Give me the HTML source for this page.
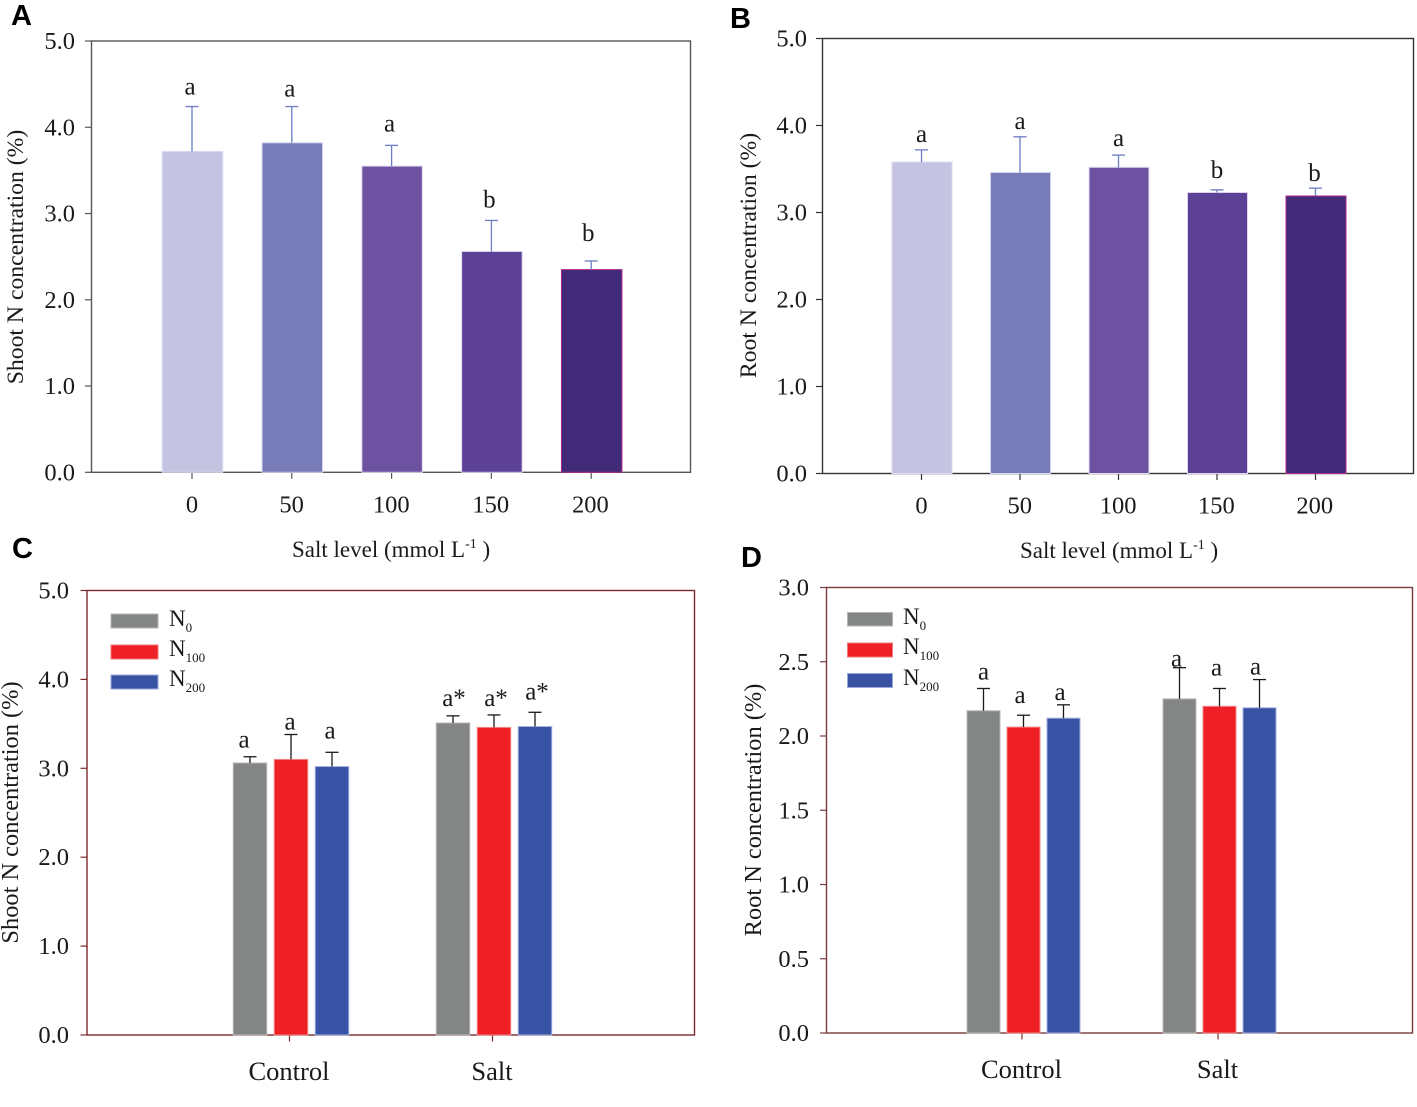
<!DOCTYPE html>
<html lang="en">
<head>
<meta charset="utf-8">
<title>Shoot and root N concentration under salt levels</title>
<style>
html,body{margin:0;padding:0;background:#fff;}
#figure{display:block;width:1417px;height:1107px;}
text{font-family:"Liberation Serif",serif;fill:#1a1a1a;}
.panel-letter{font-family:"Liberation Sans",sans-serif;font-weight:700;font-size:29px;fill:#000;}
.tick-label{font-size:24.5px;}
.axis-title{font-size:23.7px;}
.axis-title-wide{font-size:24.4px;}
.x-title{font-size:23px;}
.sig-label{font-size:25px;}
.legend-label{font-size:23px;}
.group-label{font-size:26.5px;}
.sub{font-size:13px;}
</style>
</head>
<body>
<svg id="figure" xmlns="http://www.w3.org/2000/svg" width="1417" height="1107" viewBox="0 0 1417 1107">
  <rect x="0" y="0" width="1417" height="1107" fill="#fff"/>

  <g id="panel-a"></g>
  <g id="panel-b"></g>
  <g id="panel-c"></g>
  <g id="panel-d"></g>

  <text class="panel-letter" x="11" y="25">A</text>
  <text class="panel-letter" x="730" y="28">B</text>
  <text class="panel-letter" x="12" y="558">C</text>
  <text class="panel-letter" x="741" y="567">D</text>

  <text class="axis-title" transform="translate(23,257) rotate(-90)" text-anchor="middle">Shoot N concentration (%)</text>
  <text class="axis-title" transform="translate(756,255.5) rotate(-90)" text-anchor="middle">Root N concentration (%)</text>
  <text class="axis-title-wide" transform="translate(18,812.5) rotate(-90)" text-anchor="middle">Shoot N concentration (%)</text>
  <text class="axis-title-wide" transform="translate(761,810) rotate(-90)" text-anchor="middle">Root N concentration (%)</text>

  <text class="x-title" x="292" y="557">Salt level (mmol L<tspan font-size="14" dy="-9">-1</tspan><tspan dy="9"> )</tspan></text>
  <text class="x-title" x="1020" y="558">Salt level (mmol L<tspan font-size="14" dy="-9">-1</tspan><tspan dy="9"> )</tspan></text>

  <g>
    <rect x="111" y="614" width="47" height="14" fill="#848685" stroke="#b5b5b5"/>
    <text class="legend-label" x="169" y="626">N<tspan class="sub" dy="6">0</tspan></text>
    <rect x="111" y="645" width="47" height="14" fill="#ee1f25" stroke="#f07a7a"/>
    <text class="legend-label" x="169" y="656">N<tspan class="sub" dy="6">100</tspan></text>
    <rect x="111" y="675" width="47" height="14" fill="#3953a4" stroke="#9aa8dc"/>
    <text class="legend-label" x="169" y="686">N<tspan class="sub" dy="6">200</tspan></text>
  </g>
  <g>
    <rect x="847.5" y="612.5" width="45" height="13.5" fill="#848685" stroke="#b5b5b5"/>
    <text class="legend-label" x="903" y="624">N<tspan class="sub" dy="6">0</tspan></text>
    <rect x="847.5" y="643" width="45" height="14" fill="#ee1f25" stroke="#f07a7a"/>
    <text class="legend-label" x="903" y="654">N<tspan class="sub" dy="6">100</tspan></text>
    <rect x="847.5" y="673.5" width="45" height="14" fill="#3953a4" stroke="#9aa8dc"/>
    <text class="legend-label" x="903" y="685">N<tspan class="sub" dy="6">200</tspan></text>
  </g>
</svg>

<script>
// Panel A: shoot N by salt level
const aCategories = ['0', '50', '100', '150', '200'];
const aValues = [3.72, 3.82, 3.55, 2.56, 2.35];
const aErrors = [0.52, 0.42, 0.24, 0.36, 0.10];
const aLetters = ['a', 'a', 'a', 'b', 'b'];
const aTicks = ['0.0', '1.0', '2.0', '3.0', '4.0', '5.0'];

// Panel B: root N by salt level
const bCategories = ['0', '50', '100', '150', '200'];
const bValues = [3.58, 3.46, 3.52, 3.23, 3.19];
const bErrors = [0.14, 0.41, 0.14, 0.03, 0.09];
const bLetters = ['a', 'a', 'a', 'b', 'b'];
const bTicks = ['0.0', '1.0', '2.0', '3.0', '4.0', '5.0'];

// Panel C: shoot N by treatment and N level
const cGroups = ['Control', 'Salt'];
const cN0Values = [3.06, 3.51];
const cN100Values = [3.10, 3.46];
const cN200Values = [3.02, 3.47];
const cN0Errors = [0.07, 0.08];
const cN100Errors = [0.28, 0.14];
const cN200Errors = [0.16, 0.16];
const cN0Letters = ['a', 'a*'];
const cN100Letters = ['a', 'a*'];
const cN200Letters = ['a', 'a*'];
const cTicks = ['0.0', '1.0', '2.0', '3.0', '4.0', '5.0'];

// Panel D: root N by treatment and N level
const dGroups = ['Control', 'Salt'];
const dN0Values = [2.17, 2.25];
const dN100Values = [2.06, 2.20];
const dN200Values = [2.12, 2.19];
const dN0Errors = [0.15, 0.21];
const dN100Errors = [0.08, 0.12];
const dN200Errors = [0.09, 0.19];
const dN0Letters = ['a', 'a'];
const dN100Letters = ['a', 'a'];
const dN200Letters = ['a', 'a'];
const dTicks = ['0.0', '0.5', '1.0', '1.5', '2.0', '2.5', '3.0'];

const SVGNS = 'http://www.w3.org/2000/svg';

function make(parent, tag, attrs, content) {
  const el = document.createElementNS(SVGNS, tag);
  for (const k in attrs) el.setAttribute(k, attrs[k]);
  if (content !== undefined) el.textContent = content;
  parent.appendChild(el);
  return el;
}

function linearScale(dMax, yBottom, yTop) {
  return function (v) { return yBottom - (v / dMax) * (yBottom - yTop); };
}

function drawFrame(g, f, ticks, y) {
  const frame = make(g, 'rect', {x: f.left, y: f.top, width: f.right - f.left, height: f.bottom - f.top, fill: 'none', stroke: f.axis, 'stroke-width': 1.4});
  
  
  ticks.forEach(function (t) {
    const py = y(parseFloat(t));
    const tick = make(g, 'line', {x1: f.left - 6.5, x2: f.left, y1: py, y2: py, stroke: f.axis, 'stroke-width': 1.2});
    
    
    const label = make(g, 'text', {class: 'tick-label', x: f.labelX, y: py + 8, 'text-anchor': 'end'}, t);
    
    
  });
}

function drawBar(g, cx, w, value, err, letter, y, f, fill, stroke, capColor, labelX, labelY, name) {
  const top = y(value);
  const errTop = y(value + err);
  const bar = make(g, 'rect', {x: cx + f.barDx - w / 2, y: top, width: w, height: y(0) - top, fill: fill, stroke: stroke, 'stroke-width': 1});
  
  
  const stem = make(g, 'line', {x1: cx, x2: cx, y1: top, y2: errTop, stroke: capColor, 'stroke-width': 1.3});
  
  
  const cap = make(g, 'line', {x1: cx - f.cap, x2: cx + f.cap, y1: errTop, y2: errTop, stroke: capColor, 'stroke-width': 1.3});
  
  
  const sig = make(g, 'text', {class: 'sig-label', x: cx + labelX, y: errTop + labelY, 'text-anchor': 'middle'}, letter);
  
  
}

function drawSingle(id, f, cats, values, errors, letters, ticks, fills, strokes) {
  const g = document.getElementById(id);
  const y = linearScale(parseFloat(ticks[ticks.length - 1]), f.bottom, f.top);
  const x = function (i) { return f.x0 + f.step * i; };
  drawFrame(g, f, ticks, y);
  cats.forEach(function (c, i) {
    const tick = make(g, 'line', {x1: x(i), x2: x(i), y1: f.bottom, y2: f.bottom + 6.5, stroke: f.axis, 'stroke-width': 1.2});
    
    
    const label = make(g, 'text', {class: 'tick-label', x: x(i) - f.catDx * i, y: f.bottom + 40, 'text-anchor': 'middle'}, c);
    
    
    drawBar(g, x(i), f.barW, values[i], errors[i], letters[i], y, f, fills[i], strokes[i], '#6a7cc4', f.labelDx[i], f.labelDy[i], 'bar-salt-' + c);
  });
}

function drawGrouped(id, f, groups, series, ticks) {
  const g = document.getElementById(id);
  const y = linearScale(parseFloat(ticks[ticks.length - 1]), f.bottom, f.top);
  const x = function (gi, si) { return f.x0 + f.step * gi + f.off * si; };
  drawFrame(g, f, ticks, y);
  groups.forEach(function (name, gi) {
    const tx = x(gi, 1) - 1.5;
    const tick = make(g, 'line', {x1: tx, x2: tx, y1: f.bottom, y2: f.bottom + 6.5, stroke: f.axis, 'stroke-width': 1.2});
    
    
    const label = make(g, 'text', {class: 'group-label', x: tx - 0.5, y: f.bottom + 45, 'text-anchor': 'middle'}, name);
    
    
    series.forEach(function (s, si) {
      const idx = gi * series.length + si;
      drawBar(g, x(gi, si), f.barW, s.values[gi], s.errors[gi], s.letters[gi], y, f, s.fill, s.stroke, '#1a1a1a', f.labelDx[idx], f.labelDy[idx], 'bar-' + name.toLowerCase() + '-' + s.key);
    });
  });
}

const purpleFills = ['#c5c3e2', '#777bb8', '#6d52a1', '#5c4196', '#412a78'];
const purpleStrokes = ['#dcdaf0', '#d6d8ee', '#e2dcf0', '#dcd6ee', '#b02a8c'];
const gray = {fill: '#848685', stroke: '#b9b9b9', key: 'n0'};
const red = {fill: '#ee1f25', stroke: '#f28a8a', key: 'n100'};
const blue = {fill: '#3953a4', stroke: '#a3b0e2', key: 'n200'};

drawSingle('panel-a',
  {left: 91.5, right: 690.5, top: 41, bottom: 472.3, labelX: 75, x0: 192, step: 99.8, barW: 60.5, barDx: 0.5, cap: 6.5, axis: '#555', catDx: 0.2,
   labelDx: [-2, -2, -2, -2, -3], labelDy: [-12, -10, -14, -13, -20]},
  aCategories, aValues, aErrors, aLetters, aTicks, purpleFills, purpleStrokes);

drawSingle('panel-b',
  {left: 822.5, right: 1413.5, top: 38.5, bottom: 473.5, labelX: 807, x0: 921.5, step: 98.5, barW: 60, barDx: 0.5, cap: 6.5, axis: '#333', catDx: 0.2,
   labelDx: [0, 0, 0, 0, -1], labelDy: [-8, -8, -9, -12, -7]},
  bCategories, bValues, bErrors, bLetters, bTicks, purpleFills, purpleStrokes);

drawGrouped('panel-c',
  {left: 87, right: 694.5, top: 590.5, bottom: 1035, labelX: 69, x0: 250, step: 203, off: 41, barW: 33.5, barDx: 0, cap: 6.5, axis: '#7a2a2a',
   labelDx: [-6, -1, -2, 1, 2, 2], labelDy: [-9, -5, -14, -10, -9, -13]},
  cGroups,
  [Object.assign({values: cN0Values, errors: cN0Errors, letters: cN0Letters}, gray),
   Object.assign({values: cN100Values, errors: cN100Errors, letters: cN100Letters}, red),
   Object.assign({values: cN200Values, errors: cN200Errors, letters: cN200Letters}, blue)],
  cTicks);

drawGrouped('panel-d',
  {left: 826.5, right: 1412.5, top: 587.5, bottom: 1033, labelX: 809, x0: 983.5, step: 196, off: 40, barW: 33, barDx: 0, cap: 6.5, axis: '#7a3a3a',
   labelDx: [0, -3.5, -3.5, -3, -3, -4], labelDy: [-9, -12, -5, -1, -13, -5]},
  dGroups,
  [Object.assign({values: dN0Values, errors: dN0Errors, letters: dN0Letters}, gray),
   Object.assign({values: dN100Values, errors: dN100Errors, letters: dN100Letters}, red),
   Object.assign({values: dN200Values, errors: dN200Errors, letters: dN200Letters}, blue)],
  dTicks);
</script>
</body>
</html>
